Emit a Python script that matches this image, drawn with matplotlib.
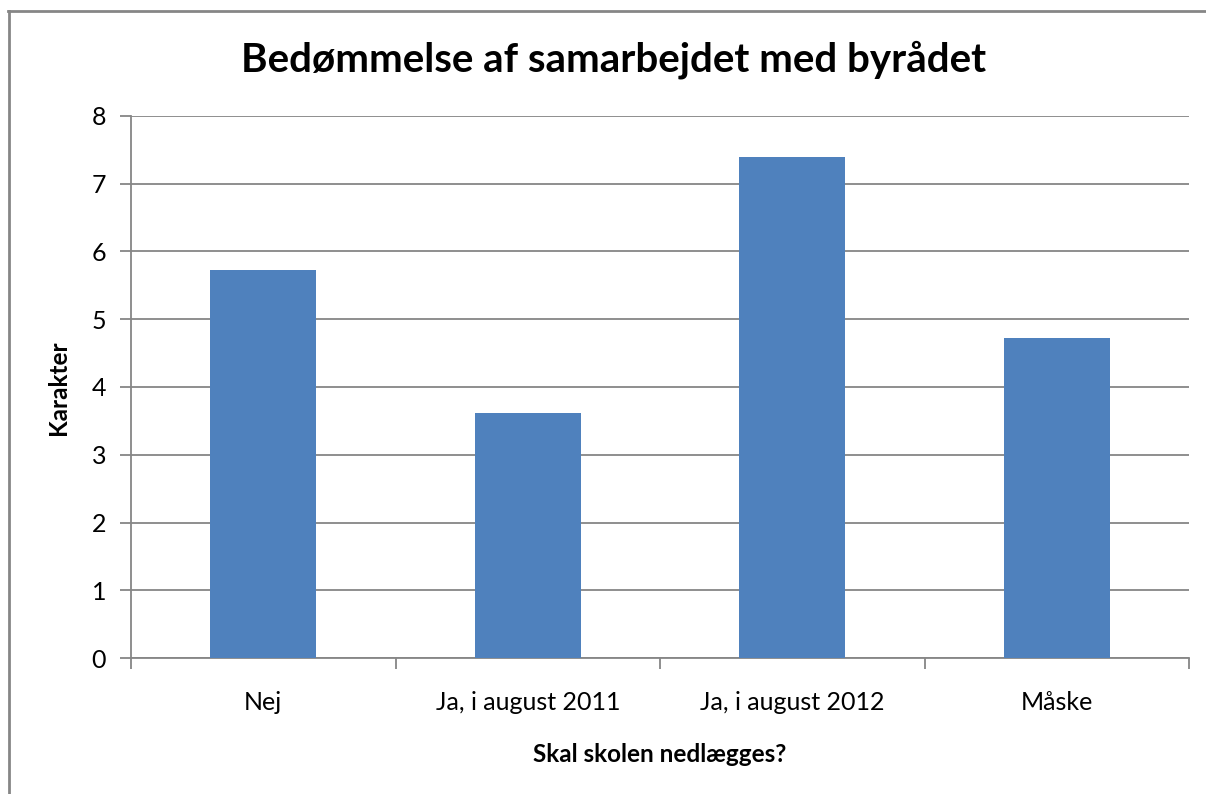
import matplotlib
matplotlib.use("Agg")
import matplotlib.pyplot as plt
from matplotlib.lines import Line2D
import numpy as np

categories = ["Nej", "Ja, i august 2011", "Ja, i august 2012", "Måske"]
values = [5.73, 3.61, 7.40, 4.73]
yticks = [0, 1, 2, 3, 4, 5, 6, 7, 8]

plt.rcParams['font.family'] = ['Lato', 'DejaVu Sans']

W, H = 1206, 794
fig = plt.figure(figsize=(W / 100, H / 100), dpi=100)
fig.patch.set_facecolor('white')

ax = fig.add_axes([131 / W, 1 - 658 / H, (1189 - 131) / W, (658 - 116) / H])

x = np.arange(len(categories))
ax.bar(x, values, width=0.4, color='#4F81BD', zorder=3)

ax.set_xlim(-0.5, len(categories) - 0.5)
ax.set_ylim(0, 8)
ax.set_yticks(yticks)
ax.set_yticklabels([str(t) for t in yticks], fontsize=18)
ax.yaxis.grid(True, color='#868686', linewidth=1.3, zorder=0)
ax.set_axisbelow(True)

ax.set_xticks(np.arange(-0.5, len(categories), 1.0))
ax.set_xticklabels([])
ax.set_xticks(x, minor=True)
ax.set_xticklabels(categories, minor=True, fontsize=18)
ax.tick_params(axis='x', which='minor', length=0, pad=24)
ax.tick_params(axis='x', which='major', length=8, width=1.3, color='#868686', direction='out')
ax.tick_params(axis='y', length=8, width=1.3, color='#868686', direction='out', pad=10)

for s in ['top', 'right']:
    ax.spines[s].set_visible(False)
for s in ['left', 'bottom']:
    ax.spines[s].set_color('#868686')
    ax.spines[s].set_linewidth(1.3)

fig.text(58 / W, 1 - 388 / H, "Karakter", fontsize=17.5, fontweight='bold',
         rotation=90, ha='center', va='center')
fig.text(660 / W, 1 - 755 / H, "Skal skolen nedlægges?", fontsize=17.5, fontweight='bold',
         ha='center', va='center')

fig.text(614 / W, 1 - 60 / H, "Bedømmelse af samarbejdet med byrådet",
         fontsize=29, fontweight='bold', ha='center', va='center')

# chart frame
fig.add_artist(Line2D([8 / W, 1.0], [1 - 10.5 / H, 1 - 10.5 / H], transform=fig.transFigure,
                      color='#868686', linewidth=2))
fig.add_artist(Line2D([8.5 / W, 8.5 / W], [0, 1 - 10.5 / H], transform=fig.transFigure,
                      color='#868686', linewidth=2))

fig.savefig("out.png", dpi=100)
